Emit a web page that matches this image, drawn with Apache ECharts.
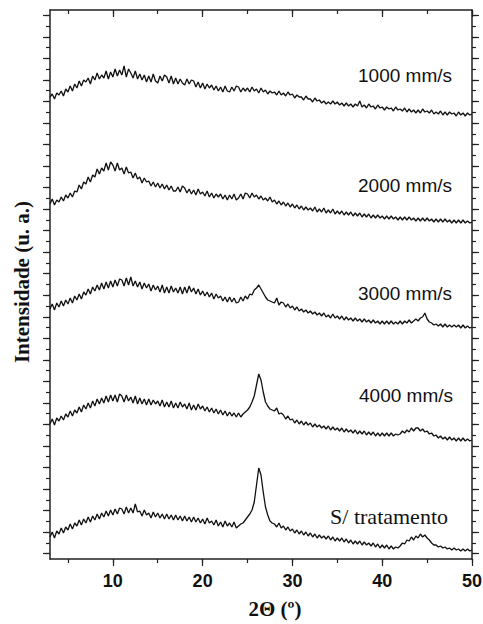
<!DOCTYPE html>
<html><head><meta charset="utf-8">
<script src="https://cdn.jsdelivr.net/npm/echarts@6/dist/echarts.min.js"></script>
<style>html,body{margin:0;padding:0;background:#fff}#c{width:483px;height:624px}</style>
</head><body><div id="c"></div>
<script>
// 2θ sampling: start 3°, step 0.25° (189 points, 3..50)
const thetaStart = 3, thetaStep = 0.25;

// Intensity (u. a.), one group per degree (x.00, x.25, x.50, x.75)
const s1000 = [
462,465,460,466, 464,468,463,470, 467,473,468,475, 471,478,473,479, 477,481,475,483,
479,486,480,484, 481,488,480,487, 482,490,483,489, 484,493,482,490, 486,481,488,480,
485,479,484,477, 483,477,485,478, 476,483,478,484, 482,476,483,475, 481,475,480,476,
474,480,475,479, 478,472,477,471, 476,470,475,471, 474,469,473,468, 472,467,473,468,
467,472,468,473, 472,467,471,468, 471,467,472,468, 470,466,471,467, 469,465,468,466,
467,464,468,464, 466,463,467,464, 465,461,464,462, 462,459,463,460, 460,457,461,458,
459,456,458,455, 457,455,458,455, 457,454,456,453, 456,453,455,452, 455,453,458,452,
454,451,455,452, 453,450,454,451, 452,449,452,450, 451,448,452,449, 450,448,451,447,
450,447,449,446, 449,446,450,447, 448,446,449,445, 447,445,448,444, 447,444,447,445,
446,443,447,444, 446,443,446,444, 445];
const s2000 = [
355,360,354,359, 357,362,358,364, 361,366,362,368, 367,374,370,377, 375,382,377,384,
382,390,385,391, 388,396,389,397, 394,388,396,389, 391,385,392,386, 387,381,386,380,
382,376,381,377, 378,373,377,372, 376,371,375,370, 374,369,373,368, 368,372,367,373,
371,366,370,365, 369,364,370,365, 367,363,368,362, 366,361,365,362, 365,360,364,359,
364,360,365,359, 361,365,360,366, 365,361,366,362, 364,360,363,359, 361,358,362,357,
359,355,358,354, 357,353,356,352, 355,351,354,350, 353,349,352,349, 351,348,352,347,
350,347,351,346, 349,346,350,345, 348,345,348,344, 347,344,347,343, 346,343,346,342,
345,342,345,341, 344,341,344,341, 343,340,343,340, 343,340,342,339, 342,339,342,339,
342,339,341,338, 341,338,341,338, 341,338,340,337, 340,337,340,337, 340,337,339,336,
339,336,339,336, 339,336,338,336, 337];
const s3000 = [
250,255,249,256, 252,258,253,259, 255,261,256,263, 259,265,260,267, 264,270,265,272,
268,274,269,276, 270,277,271,278, 272,279,273,280, 279,273,281,274, 282,273,278,272,
277,270,276,271, 275,268,274,269, 273,267,274,266, 272,266,273,267, 271,266,272,265,
272,266,273,267, 271,265,270,264, 268,263,267,262, 266,260,265,261, 263,258,262,257,
262,257,261,256, 257,262,258,263, 260,265,264,269, 271,274,270,266, 262,259,258,257,
256,261,254,257, 256,252,255,251, 253,249,252,248, 250,247,249,246, 248,245,247,244,
246,243,246,242, 244,241,245,241, 243,240,243,239, 242,239,241,238, 241,238,240,237,
240,237,239,236, 239,236,238,235, 238,235,238,235, 238,235,237,235, 238,235,238,236,
239,236,238,240, 238,241,242,246, 240,237,236,234, 235,233,235,232, 235,232,234,232,
234,232,234,231, 234,231,233,231, 232];
const s4000 = [
135,140,134,141, 138,143,139,145, 142,148,143,149, 146,152,147,154, 150,156,151,158,
153,160,155,161, 156,163,157,164, 158,164,157,165, 163,157,164,158, 162,156,163,155,
161,155,160,154, 160,154,159,155, 158,153,159,152, 157,152,158,151, 156,151,157,152,
155,150,156,149, 154,149,155,150, 153,148,152,147, 151,146,150,145, 149,144,148,143,
147,143,146,142, 146,142,145,147, 149,152,157,163, 174,185,179,167, 157,153,150,149,
148,151,145,146, 144,140,143,139, 140,136,139,135, 138,134,137,134, 136,132,135,132,
134,131,133,130, 133,129,132,129, 131,128,131,127, 130,127,129,126, 129,125,128,125,
128,124,127,124, 127,123,126,123, 126,123,126,123, 126,123,125,124, 125,128,126,129,
127,131,128,131, 131,128,130,127, 128,125,126,123, 124,121,123,120, 122,119,122,119,
121,118,121,118, 121,118,120,118, 119];
const sRaw = [
22,27,21,28, 25,31,26,32, 29,35,30,36, 33,39,34,40, 36,42,37,43,
39,45,40,46, 42,48,43,49, 44,50,45,51, 50,45,52,46, 51,46,55,47,
48,43,49,44, 46,41,47,42, 46,41,45,40, 45,40,44,39, 44,39,43,38,
43,38,42,37, 42,37,41,36, 40,35,41,36, 38,34,39,33, 37,32,38,33,
36,32,37,31, 33,35,36,39, 42,45,49,57, 74,91,84,67, 52,44,38,36,
35,32,36,31, 33,29,32,28, 30,26,29,25, 28,24,27,23, 26,22,25,21,
24,21,23,20, 23,19,22,18, 21,18,21,17, 20,16,19,15, 18,15,18,14,
17,14,16,13, 16,12,15,11, 14,11,14,10, 13,10,12,11, 13,16,15,19,
18,22,19,23, 21,25,22,24, 21,19,16,14, 14,12,13,11, 12,10,11,9,
11,9,10,8, 10,8,10,8, 9];

const seriesNames = ['1000 mm/s', '2000 mm/s', '3000 mm/s', '4000 mm/s', 'S/ tratamento'];
const seriesValues = [s1000, s2000, s3000, s4000, sRaw];
const xTickLabels = ['10', '20', '30', '40', '50'];
const xTitle = '2\u0398 (\u00BA)';
const yTitle = 'Intensidade (u. a.)';

// decorative tick categories
const xCats = [];
for (let v = 3; v <= 50; v++) xCats.push(String(v));
const yCats = [];
for (let k = 0; k < 51; k++) yCats.push('t' + k);

const twoTheta = s1000.map((_, i) => thetaStart + i * thetaStep);

const ink = '#111';
const axLine = { show: true, onZero: false, lineStyle: { color: '#222', width: 1.5 } };
const noLine = { show: false, onZero: false };
const tickStyle = { color: '#222', width: 1.2 };

function xDeco(position, major, inside) {
  return {
    type: 'category', data: xCats, boundaryGap: false, position: position,
    axisLine: major ? noLine : axLine,
    axisTick: { show: true, inside: inside, length: major ? 7 : 4, lineStyle: tickStyle,
      interval: major ? (i, v) => (+v) % 10 === 0 : (i, v) => (+v) % 5 === 0 },
    axisLabel: (major && position === 'bottom') ? {
      show: true, interval: (i, v) => xTickLabels.indexOf(v) >= 0, margin: 13,
      color: ink, fontSize: 18, fontWeight: 'bold', fontFamily: '"Liberation Sans", Arial, sans-serif'
    } : { show: false },
    splitLine: { show: false }
  };
}
function yDeco(position, major) {
  return {
    type: 'category', data: yCats, boundaryGap: true, position: position,
    axisLine: major ? noLine : axLine,
    axisTick: { show: true, alignWithLabel: true, inside: false, length: major ? 7 : 4,
      interval: major ? 1 : 0, lineStyle: tickStyle },
    axisLabel: { show: false }, splitLine: { show: false }
  };
}

const labelPos = [[452, 75], [452, 185], [452, 293.5], [453, 395], [448, 516]];
const graphics = seriesNames.map((name, i) => ({
  type: 'text', x: labelPos[i][0], y: labelPos[i][1], silent: true,
  style: {
    text: name, fill: ink,
    font: i === 4 ? '22px "Liberation Serif", "Times New Roman", serif' : '19px "Liberation Sans", Arial, sans-serif',
    align: 'right', verticalAlign: 'middle', textAlign: 'right', textVerticalAlign: 'middle'
  }
}));
graphics.push({
  type: 'text', x: 22, y: 282, rotation: Math.PI / 2, silent: true,
  style: { text: yTitle, fill: ink, font: 'bold 21px "Liberation Serif", "Times New Roman", serif',
    align: 'center', verticalAlign: 'middle', textAlign: 'center', textVerticalAlign: 'middle' }
});
graphics.push({
  type: 'text', x: 275, y: 609, silent: true,
  style: { text: xTitle, fill: ink, font: 'bold 21px "Liberation Serif", "Times New Roman", serif',
    align: 'center', verticalAlign: 'middle', textAlign: 'center', textVerticalAlign: 'middle' }
});

const chart = echarts.init(document.getElementById('c'), null, { renderer: 'svg' });
chart.setOption({
  animation: false,
  backgroundColor: '#fff',
  grid: { left: 50, right: 11, top: 10, bottom: 65, containLabel: false, outerBoundsMode: 'none' },
  xAxis: [
    { type: 'value', min: 3, max: 50, show: false },
    xDeco('bottom', false, false),
    xDeco('bottom', true, false),
    xDeco('top', false, true),
    xDeco('top', true, true)
  ],
  yAxis: [
    { type: 'value', min: 0, max: 549, show: false },
    yDeco('left', false),
    yDeco('left', true),
    yDeco('right', false),
    yDeco('right', true)
  ],
  series: seriesValues.map((vals, i) => ({
    name: seriesNames[i], type: 'line', xAxisIndex: 0, yAxisIndex: 0,
    data: twoTheta.map((x, j) => [x, vals[j]]),
    symbol: 'none', showSymbol: false, silent: true,
    lineStyle: { color: ink, width: 1.3 }
  })),
  graphic: graphics
});
</script>
</body></html>
